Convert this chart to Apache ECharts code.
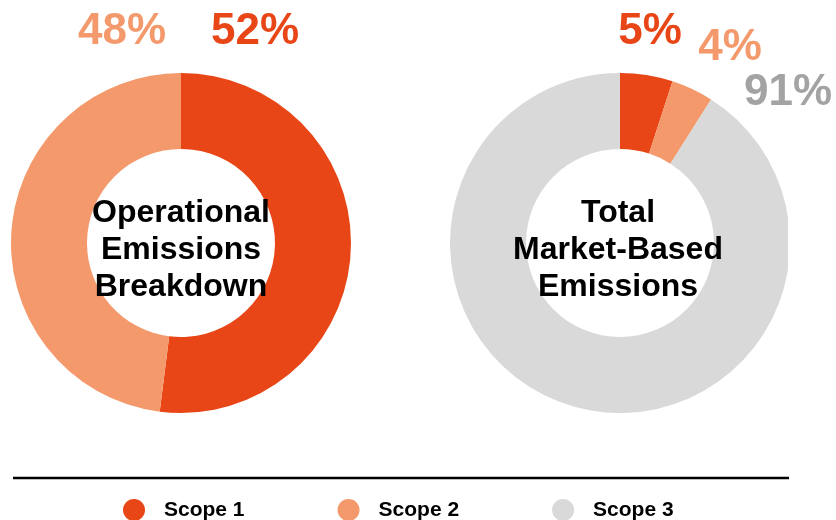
<!DOCTYPE html>
<html>
<head>
<meta charset="utf-8">
<script src="https://cdn.jsdelivr.net/npm/echarts@6/dist/echarts.min.js"></script>
<style>
html,body{margin:0;padding:0;background:#fff;}
#main{width:836px;height:520px;}
</style>
</head>
<body>
<div id="main"></div>
<script>
// ---- data ----
var categories = ['Scope 1', 'Scope 2', 'Scope 3'];
var operationalValues = [52, 48];
var marketBasedValues = [5, 4, 91];
var sliceColors = ['#E84616', '#F3996B', '#D9D9D9'];
var labelColors = ['#E84616', '#F3996B', '#A3A3A3'];
var centerTitles = ['Operational\nEmissions\nBreakdown', 'Total\nMarket-Based\nEmissions'];

// ---- layout (positions kept out of data) ----
var FONT = '"Liberation Sans", Arial, Helvetica, sans-serif';
var centers = [[181, 243], [620, 243]];
var labelPos = [
  [[255, 32], [122, 32]],
  [[650, 32], [730, 48], [788, 93]]
];

function buildData(values) {
  return values.map(function (v, i) {
    return {
      name: categories[i],
      value: v,
      itemStyle: { color: sliceColors[i] },
      label: { color: labelColors[i] }
    };
  });
}

function makeSeries(values, idx) {
  return {
    type: 'pie',
    center: centers[idx],
    radius: [94, 170],
    startAngle: 90,
    clockwise: true,
    avoidLabelOverlap: false,
    silent: true,
    data: buildData(values),
    label: {
      show: true,
      position: 'outside',
      formatter: '{c}%',
      fontFamily: FONT,
      fontWeight: 'bold',
      fontSize: 44
    },
    labelLine: { show: false },
    labelLayout: function (p) {
      var pos = labelPos[idx][p.dataIndex];
      return { x: pos[0], y: pos[1], align: 'center', verticalAlign: 'middle' };
    },
    emphasis: { disabled: true }
  };
}

var chart = echarts.init(document.getElementById('main'), null, { renderer: 'canvas' });
chart.setOption({
  animation: false,
  backgroundColor: '#ffffff',
  legend: {
    data: categories,
    left: 118,
    top: 494,
    icon: 'circle',
    itemWidth: 22,
    itemHeight: 22,
    itemGap: 93,
    selectedMode: false,
    textStyle: {
      fontFamily: FONT,
      fontWeight: 'bold',
      fontSize: 21,
      color: '#000',
      padding: [0, 0, 0, 14]
    }
  },
  series: [makeSeries(operationalValues, 0), makeSeries(marketBasedValues, 1)],
  graphic: [
    {
      type: 'rect', z: 100,
      shape: { x: 788, y: 180, width: 48, height: 130 },
      style: { fill: '#ffffff' }
    },
    {
      type: 'text', z: 110, x: centers[0][0], y: 250,
      style: {
        text: centerTitles[0], fill: '#000', align: 'center', verticalAlign: 'middle',
        font: 'bold 32px ' + FONT, lineHeight: 37
      }
    },
    {
      type: 'text', z: 110, x: centers[1][0] - 2, y: 250,
      style: {
        text: centerTitles[1], fill: '#000', align: 'center', verticalAlign: 'middle',
        font: 'bold 32px ' + FONT, lineHeight: 37
      }
    },
    {
      type: 'line', z: 100,
      shape: { x1: 13, y1: 478, x2: 789, y2: 478 },
      style: { stroke: '#000', lineWidth: 2.5 }
    }
  ]
});
</script>
</body>
</html>
